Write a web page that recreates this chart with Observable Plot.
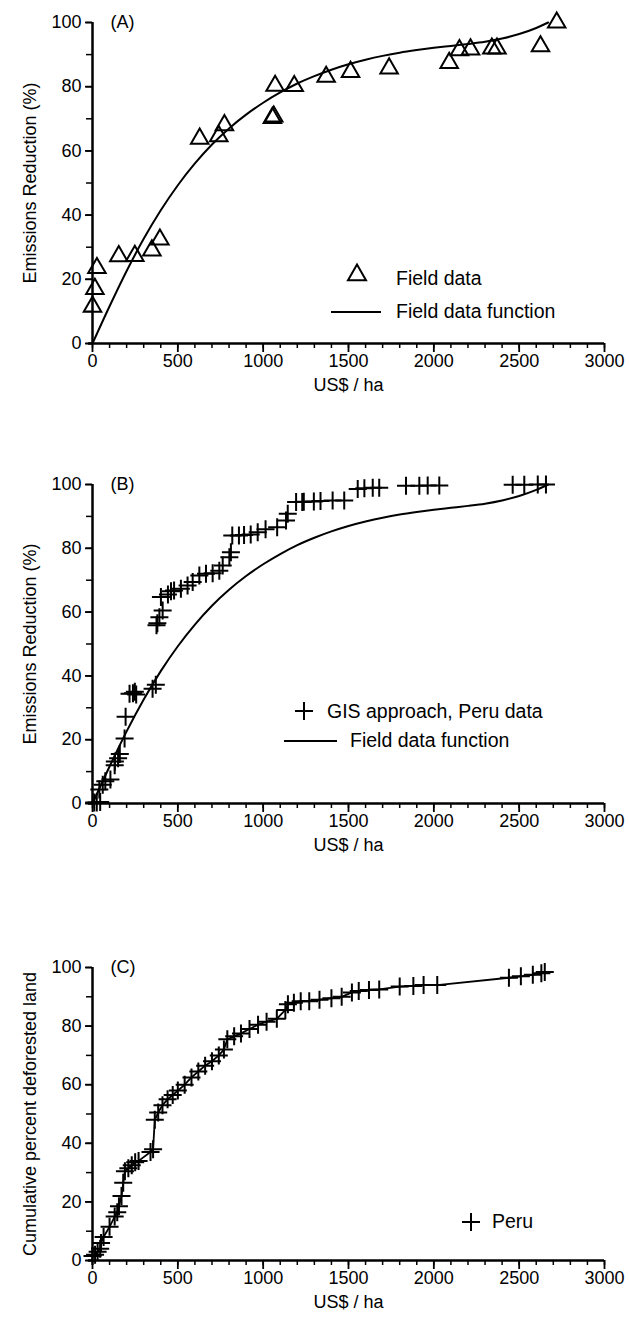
<!DOCTYPE html>
<html><head><meta charset="utf-8">
<script src="https://cdn.jsdelivr.net/npm/d3@7"></script>
<script src="https://cdn.jsdelivr.net/npm/@observablehq/plot@0.6"></script>
<style>
body{margin:0;background:#fff;font-family:"Liberation Sans",Arial,Helvetica,sans-serif;}
.panel{position:relative;width:629px;}
.panel > svg{display:block;}
.leg{position:absolute;font-size:19.5px;color:#000;line-height:1;white-space:nowrap;transform:translateY(-50%);}
.glyph{position:absolute;overflow:visible;}
</style></head><body>
<div id="A" class="panel"></div>
<div id="B" class="panel"></div>
<div id="C" class="panel"></div>
<script>
// ---- tick labels ----
const xMajor = [0, 500, 1000, 1500, 2000, 2500, 3000];
const xMinor = [0,100,200,300,400,500,600,700,800,900,1000,1100,1200,1300,1400,1500,1600,1700,1800,1900,2000,2100,2200,2300,2400,2500,2600,2700,2800,2900,3000];
const yMajor = [0, 20, 40, 60, 80, 100];
const yMinor = [0, 10, 20, 30, 40, 50, 60, 70, 80, 90, 100];

// ---- (A) field data ----
const fieldX = [0, 14, 26, 154, 248, 348, 395, 628, 740, 773, 1054, 1062, 1070, 1182, 1369, 1512, 1738, 2090, 2150, 2215, 2340, 2370, 2625, 2720];
const fieldY = [11.5, 17, 23.5, 27.2, 27.3, 29, 32.4, 63.8, 64.6, 68, 70.3, 70.7, 80.3, 80.2, 83.1, 84.6, 85.7, 87.4, 91.4, 91.6, 91.9, 91.9, 92.6, 100];

// ---- field data function ----
const fnX = [0, 100, 200, 300, 400, 500, 600, 700, 800, 900, 1000, 1100, 1200, 1300, 1400, 1500, 1600, 1700, 1800, 1900, 2000, 2100, 2200, 2300, 2400, 2500, 2600, 2670];
const fnY = [0, 11.6, 22.6, 32.6, 41.5, 49.3, 56.1, 62, 67, 71.3, 75, 78.2, 81, 83.3, 85.3, 87, 88.4, 89.6, 90.6, 91.4, 92.1, 92.7, 93.3, 94, 95, 96.4, 98.3, 100];

// ---- (B) GIS approach, Peru data ----
const gisX = [10, 25, 45, 40, 60, 75, 105, 130, 131, 150, 160, 188, 194, 217, 237, 248, 256, 352, 371, 375, 380, 392, 411, 401, 442, 460, 478, 518, 557, 587, 626, 665, 704, 743, 763, 802, 811, 819, 858, 888, 927, 968, 1014, 1082, 1134, 1144, 1193, 1229, 1238, 1297, 1336, 1407, 1475, 1554, 1593, 1642, 1680, 1837, 1915, 1964, 2032, 2462, 2530, 2609, 2657];
const gisY = [0.3, 0.3, 0.5, 4.4, 5.9, 7, 7.5, 12, 13.2, 14.2, 15.5, 20.4, 27.2, 34.4, 34.6, 35, 34.2, 36, 37.2, 55.9, 56.5, 58.4, 60.5, 64.7, 65.5, 66.5, 66.8, 67.3, 68.3, 69.4, 71.5, 72, 72.2, 73, 74.6, 77.2, 78.8, 84, 84, 84.2, 84.3, 85, 86, 86.6, 88.7, 90.8, 94.5, 94.5, 94.6, 94.7, 94.8, 95, 95, 98.6, 98.8, 99, 99, 99.6, 99.6, 99.7, 99.7, 99.9, 99.9, 100, 100];

// ---- (C) Peru cumulative deforested land ----
const peruX = [0, 15, 30, 45, 50, 65, 100, 130, 145, 155, 170, 180, 190, 210, 230, 250, 270, 340, 355, 365, 385, 410, 440, 470, 500, 540, 580, 620, 660, 700, 740, 770, 790, 830, 870, 920, 970, 1020, 1080, 1130, 1145, 1180, 1220, 1270, 1330, 1400, 1460, 1520, 1560, 1620, 1680, 1800, 1880, 1940, 2020, 2440, 2510, 2580, 2630, 2650];
const peruY = [1.5, 2, 3, 4, 6, 8, 11.5, 15, 16.5, 18.5, 22, 26.5, 30.5, 31.5, 32.5, 33.5, 34, 37, 38, 48, 50.5, 53, 55, 56.5, 58, 60, 62.5, 64.5, 66.5, 68, 70, 72, 75.5, 76.5, 77.5, 79, 80.5, 81.5, 82.5, 85.5, 87.5, 88, 88.5, 88.5, 89, 89.5, 90, 91.5, 92, 92.3, 92.5, 93.5, 93.7, 94, 94, 96.5, 97, 97.5, 98, 98.5];

const FONT = '"Liberation Sans", Arial, Helvetica, sans-serif';
const plusSymbol = {
  draw(ctx, size) {
    const r = Math.sqrt(size / Math.PI);
    ctx.moveTo(-r, 0); ctx.lineTo(r, 0);
    ctx.moveTo(0, -r); ctx.lineTo(0, r);
  }
};

function frameMarks(tag, ylabel) {
  return [
    Plot.axisX({ticks: xMinor, tickSize: 5, strokeWidth: 1.5, tickFormat: () => "", label: null}),
    Plot.axisX({ticks: xMajor, tickSize: 9, strokeWidth: 1.8, tickPadding: 2, tickFormat: d => String(d), fontSize: 18, label: null}),
    Plot.axisY({ticks: yMinor, tickSize: 6, strokeWidth: 1.5, tickFormat: () => "", label: null}),
    Plot.axisY({ticks: yMajor, tickSize: 7, strokeWidth: 1.8, tickPadding: 4, tickFormat: d => String(d), fontSize: 18, label: null}),
    Plot.ruleY([0], {strokeWidth: 2.5, insetLeft: -4}),
    Plot.ruleX([0], {strokeWidth: 2.5}),
    Plot.text([tag], {text: d => d, frameAnchor: "top-left", dx: 18, dy: 0, textAnchor: "start", lineAnchor: "middle", fontSize: 18}),
    Plot.text([ylabel], {text: d => d, frameAnchor: "left", dx: -62, rotate: -90, textAnchor: "middle", lineAnchor: "middle", fontSize: 18}),
    Plot.text(["US$ / ha"], {text: d => d, frameAnchor: "bottom", dy: 42, textAnchor: "middle", lineAnchor: "middle", fontSize: 18})
  ];
}

function makePlot(opts, marks) {
  return Plot.plot({
    width: 629, height: opts.height,
    marginLeft: 92, marginRight: 25, marginTop: opts.mt, marginBottom: opts.mb,
    style: {fontFamily: FONT, fontSize: "18px", background: "white", color: "black", overflow: "visible"},
    x: {domain: [0, 3000]},
    y: {domain: [0, 100]},
    marks
  });
}

// ---- legend helpers (HTML overlay) ----
function glyph(el, kind, cx, cy) {
  const ns = "http://www.w3.org/2000/svg";
  const s = document.createElementNS(ns, "svg");
  s.setAttribute("class", "glyph");
  s.setAttribute("width", 60); s.setAttribute("height", 30);
  s.style.left = (cx - 30) + "px"; s.style.top = (cy - 15) + "px";
  const g = document.createElementNS(ns, "g");
  g.setAttribute("transform", "translate(30,15)");
  const p = document.createElementNS(ns, "path");
  let d = "";
  if (kind === "tri") d = "M0,-10.4L9,5.2L-9,5.2Z";
  if (kind === "plus") d = "M-9,0L9,0M0,-9L0,9";
  p.setAttribute("d", d);
  p.setAttribute("fill", "none"); p.setAttribute("stroke", "black"); p.setAttribute("stroke-width", 2);
  g.appendChild(p); s.appendChild(g); el.appendChild(s);
}
function lineGlyph(el, x1, x2, y) {
  const ns = "http://www.w3.org/2000/svg";
  const s = document.createElementNS(ns, "svg");
  s.setAttribute("class", "glyph");
  s.setAttribute("width", x2 - x1); s.setAttribute("height", 6);
  s.style.left = x1 + "px"; s.style.top = (y - 3) + "px";
  const l = document.createElementNS(ns, "line");
  l.setAttribute("x1", 0); l.setAttribute("x2", x2 - x1); l.setAttribute("y1", 3); l.setAttribute("y2", 3);
  l.setAttribute("stroke", "black"); l.setAttribute("stroke-width", 2);
  s.appendChild(l); el.appendChild(s);
}
function label(el, text, x, y) {
  const d = document.createElement("div");
  d.className = "leg"; d.textContent = text;
  d.style.left = x + "px"; d.style.top = y + "px";
  el.appendChild(d);
}

// ---- Panel A ----
const elA = document.getElementById("A");
elA.appendChild(makePlot({height: 440, mt: 22, mb: 97}, [
  ...frameMarks("(A)", "Emissions Reduction (%)"),
  Plot.line(fnX, {x: fnX, y: fnY, curve: "monotone-x", stroke: "black", strokeWidth: 2}),
  Plot.dot(fieldX, {x: fieldX, y: fieldY, symbol: "triangle", r: 6.5, fill: "none", stroke: "black", strokeWidth: 2})
]));
glyph(elA, "tri", 357, 275);
label(elA, "Field data", 396, 279);
lineGlyph(elA, 331, 381, 312);
label(elA, "Field data function", 396, 312);

// ---- Panel B ----
const elB = document.getElementById("B");
elB.appendChild(makePlot({height: 480, mt: 44, mb: 117}, [
  ...frameMarks("(B)", "Emissions Reduction (%)"),
  Plot.line(fnX, {x: fnX, y: fnY, curve: "monotone-x", stroke: "black", strokeWidth: 2}),
  Plot.dot(gisX, {x: gisX, y: gisY, symbol: plusSymbol, r: 9, fill: "none", stroke: "black", strokeWidth: 2})
]));
glyph(elB, "plus", 304, 271);
label(elB, "GIS approach, Peru data", 327, 272);
lineGlyph(elB, 284, 337, 301);
label(elB, "Field data function", 350, 301);

// ---- Panel C ----
const elC = document.getElementById("C");
elC.appendChild(makePlot({height: 404, mt: 47, mb: 64}, [
  ...frameMarks("(C)", "Cumulative percent deforested land"),
  Plot.line(peruX, {x: peruX, y: peruY, stroke: "black", strokeWidth: 1.8}),
  Plot.dot(peruX, {x: peruX, y: peruY, symbol: plusSymbol, r: 9, fill: "none", stroke: "black", strokeWidth: 2})
]));
glyph(elC, "plus", 471, 302);
label(elC, "Peru", 492, 302);
</script>
</body></html>
